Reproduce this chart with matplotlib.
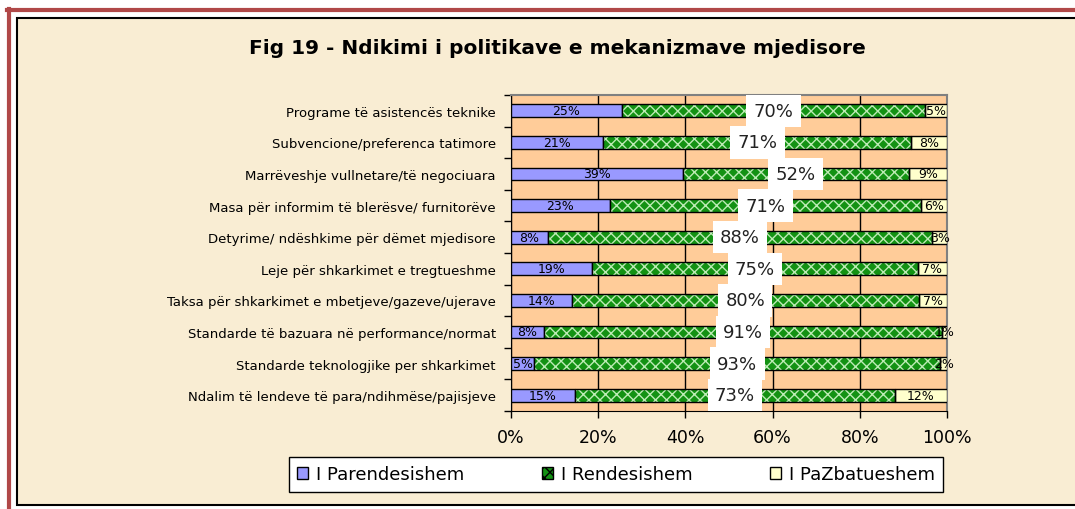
import matplotlib.pyplot as plt
from matplotlib.patches import Rectangle
from matplotlib.lines import Line2D

# Data (share of answers, %)
categories = [
    "Programe të asistencës teknike",
    "Subvencione/preferenca tatimore",
    "Marrëveshje vullnetare/të negociuara",
    "Masa për informim të blerësve/ furnitorëve",
    "Detyrime/ ndëshkime për dëmet mjedisore",
    "Leje për shkarkimet e tregtueshme",
    "Taksa për shkarkimet e mbetjeve/gazeve/ujerave",
    "Standarde të bazuara në performance/normat",
    "Standarde teknologjike per shkarkimet",
    "Ndalim të lendeve të para/ndihmëse/pajisjeve",
]
parendesishem = [25.4, 21.2, 39.4, 22.7, 8.4, 18.6, 13.9, 7.6, 5.3, 14.7]
rendesishem = [69.6, 70.6, 51.8, 71.4, 88.2, 74.7, 79.6, 91.2, 93.2, 73.3]
pazbatueshem = [5.0, 8.2, 8.8, 5.9, 3.4, 6.7, 6.6, 1.2, 1.5, 12.0]
series_names = ["I Parendesishem", "I Rendesishem", "I PaZbatueshem"]
x_ticks = [0, 20, 40, 60, 80, 100]

plt.rcParams['font.family'] = ['DejaVu Sans']
plt.rcParams['hatch.linewidth'] = 1.0

fig = plt.figure(figsize=(10.75, 5.1), dpi=100)
fig.patch.set_facecolor('white')

W, H = 1075, 510
def fx(px):
    return px / W
def fy(py):
    return 1 - py / H

# parchment panel with black border, red page frame
fig.patches.append(Rectangle((fx(17), fy(506)), fx(1075 + 5) - fx(17), fy(19) - fy(506),
                             transform=fig.transFigure, facecolor='#F9EDD3',
                             edgecolor='black', linewidth=1.5, zorder=-10))
fig.lines.append(Line2D([fx(8.5), fx(8.5)], [fy(10), 0], transform=fig.transFigure,
                        color='#B04848', linewidth=3, zorder=-10))
fig.lines.append(Line2D([fx(7), 1], [fy(10.5), fy(10.5)], transform=fig.transFigure,
                        color='#B04848', linewidth=3, zorder=-10))

ax = fig.add_axes([fx(511), fy(412), 436 / W, 316 / H])
ax.set_facecolor('#FFCC99')

y = list(range(len(categories)))
h = 0.4
blue = '#9999FF'
green = '#139213'
yellow = '#FFFFCC'

left2 = parendesishem
left3 = [a + b for a, b in zip(parendesishem, rendesishem)]

ax.barh(y, parendesishem, height=h, color=blue, edgecolor='black', linewidth=1, zorder=3)
ax.barh(y, rendesishem, left=left2, height=h, color=green, edgecolor='#BDEBB5',
        hatch='xxx', linewidth=0, zorder=3)
ax.barh(y, rendesishem, left=left2, height=h, fill=False, edgecolor='black', linewidth=1, zorder=4)
ax.barh(y, pazbatueshem, left=left3, height=h, color=yellow, edgecolor='black', linewidth=1, zorder=3)

for i in y:
    ax.text(parendesishem[i] / 2, i, f"{parendesishem[i]:.0f}%", ha='center', va='center',
            fontsize=9, zorder=6)
    ax.text(left3[i] + pazbatueshem[i] / 2, i, f"{pazbatueshem[i]:.0f}%", ha='center', va='center',
            fontsize=9, zorder=6)
    ax.text(left2[i] + rendesishem[i] / 2, i, f"{rendesishem[i]:.0f}%", ha='center', va='center',
            fontsize=13, zorder=7, color='#222222',
            bbox=dict(boxstyle='square,pad=0.4', facecolor='white', edgecolor='none'))

ax.set_xlim(0, 100)
ax.set_ylim(len(categories) - 0.5, -0.5)
ax.set_xticks(x_ticks)
ax.set_xticklabels([f"{t}%" for t in x_ticks], fontsize=12.5)
ax.set_yticks(y)
ax.set_yticklabels(categories, fontsize=9.5)
ax.set_yticks([i + 0.5 for i in range(-1, len(categories))], minor=True)
ax.tick_params(axis='y', which='major', length=0, pad=11)
ax.tick_params(axis='y', which='minor', length=5, direction='out', width=1)
ax.tick_params(axis='x', length=5, direction='out', width=1, pad=7)

ax.grid(axis='x', color='black', linewidth=1, zorder=1)
ax.set_axisbelow(True)
ax.spines['top'].set_color('#808080')
ax.spines['right'].set_color('#808080')
ax.spines['top'].set_linewidth(1.5)
ax.spines['right'].set_linewidth(1.5)

fig.text(fx(557), fy(48), "Fig 19 - Ndikimi i politikave e mekanizmave mjedisore",
         ha='center', va='center', fontsize=14.5, fontweight='bold')

handles = [
    Rectangle((0, 0), 1, 1, facecolor=blue, edgecolor='black'),
    Rectangle((0, 0), 1, 1, facecolor=green, edgecolor='black', hatch='xxx'),
    Rectangle((0, 0), 1, 1, facecolor=yellow, edgecolor='black'),
]
leg = fig.legend(handles, series_names, ncol=3, loc='center',
                 bbox_to_anchor=(fx(616), fy(475.5)), fontsize=13,
                 frameon=True, fancybox=False, edgecolor='black', framealpha=1,
                 handlelength=0.6, handleheight=0.6, handletextpad=0.45,
                 columnspacing=4.3, borderpad=0.45, borderaxespad=0)
leg.get_frame().set_linewidth(1)

fig.savefig("out.png", dpi=100)
